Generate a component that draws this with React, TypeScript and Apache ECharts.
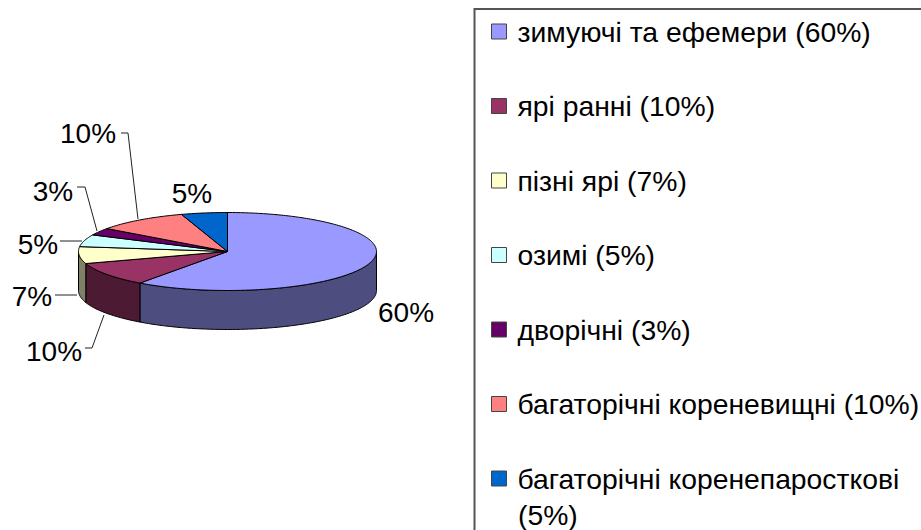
import React, { useEffect, useRef } from "react";
import * as echarts from "echarts";

const categories = [
  "зимуючі та ефемери",
  "ярі ранні",
  "пізні ярі",
  "озимі",
  "дворічні",
  "багаторічні кореневищні",
  "багаторічні коренепаросткові",
];
const percents = [60, 10, 7, 5, 3, 10, 5];
const topColors = ["#9999FF", "#993366", "#FFFFCC", "#CCFFFF", "#660066", "#FF8080", "#0066CC"];
const sideColors = ["#4D4D80", "#4D1A33", "#808066", "#668080", "#330033", "#804040", "#003366"];

// layout of the projected disc
const CX = 227.5, CY = 251.5, RX = 149, RY = 39, DEPTH = 39;
const FONT = "Liberation Sans";
const LABEL_FONT_SIZE = 28;
const LEGEND_FONT_SIZE = 28.3;
// label centre and leader line, by slice
const labelCentres = [[406, 312], [54, 351], [32, 296], [38, 244], [53, 191], [88, 133], [192, 193]];
const leaders: number[][][] = [
  [],
  [[85, 348], [92, 348], [104, 315]],
  [[55, 295], [77, 295]],
  [[60, 241], [82, 241]],
  [[77, 187], [85, 187], [97, 231]],
  [[121, 133], [128, 133], [138, 219]],
  [],
];

const pt = (deg: number, dy = 0): number[] => {
  const a = (deg * Math.PI) / 180;
  return [CX + RX * Math.sin(a), CY - RY * Math.cos(a) + dy];
};

const LAST = categories.length - 1;
const legendName = (i: number) => `${categories[i]} (${percents[i]}%)`;
const wrappedTail = `(${percents[LAST]}%)`;

function makeSeries(i: number, startPct: number) {
  return {
    type: "custom",
    name: legendName(i),
    coordinateSystem: "none",
    silent: true,
    itemStyle: { color: topColors[i] },
    data: [[percents[i], startPct]],
    renderItem: (_p: any, api: any) => {
      const v = api.value(0);
      const from = (api.value(1) / 100) * 360;
      const to = from + (v / 100) * 360;
      const children: any[] = [];
      const lineStyle = { stroke: "#000", lineWidth: 1, lineJoin: "round" };
      const sFrom = Math.max(from, 90);
      const sTo = Math.min(to, 270);
      if (sTo > sFrom) {
        const upper: number[][] = [];
        const lower: number[][] = [];
        for (let d = sFrom; d < sTo; d += 1) {
          upper.push(pt(d));
          lower.unshift(pt(d, DEPTH));
        }
        upper.push(pt(sTo));
        lower.unshift(pt(sTo, DEPTH));
        children.push({
          type: "polygon",
          shape: { points: upper.concat(lower) },
          style: { fill: sideColors[i], ...lineStyle },
        });
      }
      const top: number[][] = [[CX, CY]];
      for (let d = from; d < to; d += 1) top.push(pt(d));
      top.push(pt(to));
      children.push({
        type: "polygon",
        shape: { points: top },
        style: { fill: topColors[i], ...lineStyle },
      });
      if (leaders[i].length) {
        children.push({
          type: "polyline",
          shape: { points: leaders[i] },
          style: { fill: "none", stroke: "#222", lineWidth: 1 },
        });
      }
      children.push({
        type: "text",
        x: labelCentres[i][0],
        y: labelCentres[i][1],
        style: {
          text: `${v}%`,
          fill: "#000",
          font: `${LABEL_FONT_SIZE}px "${FONT}"`,
          align: "center",
          verticalAlign: "middle",
        },
      });
      return { type: "group", children };
    },
  };
}

export default function App() {
  const ref = useRef<HTMLDivElement>(null);
  useEffect(() => {
    const chart = echarts.init(ref.current!, null, { renderer: "svg" });
    let acc = 0;
    const series = percents.map((_, i) => {
      const s = makeSeries(i, acc);
      acc += percents[i];
      return s;
    });
    chart.setOption({
      animation: false,
      backgroundColor: "#fff",
      series,
      legend: {
        orient: "vertical",
        left: 491,
        top: 14,
        height: 600,
        width: 430,
        padding: 0,
        itemGap: 39.5,
        itemWidth: 15,
        itemHeight: 15,
        icon: "rect",
        selectedMode: false,
        data: percents.map((_, i) => ({
          name: legendName(i),
          itemStyle: { color: topColors[i], borderColor: "#444", borderWidth: 1 },
        })),
        // the last entry wraps: its tail is drawn below it, with the icon on the first line
        formatter: (n: string) => n.replace(` ${wrappedTail}`, (m) => (n === legendName(LAST) ? "" : m)),
        textStyle: {
          fontFamily: FONT,
          fontSize: LEGEND_FONT_SIZE,
          color: "#000",
          lineHeight: 35,
          padding: [0, 0, 0, 6],
        },
      },
      graphic: [
        {
          type: "polyline",
          silent: true,
          shape: { points: [[474.5, 530], [474.5, 9], [921, 9]] },
          style: { fill: "none", stroke: "#555", lineWidth: 2 },
        },
        {
          type: "text",
          silent: true,
          x: 518,
          y: 515,
          style: {
            text: wrappedTail,
            fill: "#000",
            font: `${LEGEND_FONT_SIZE}px "${FONT}"`,
            align: "left",
            verticalAlign: "middle",
          },
        },
      ],
    });
    return () => chart.dispose();
  }, []);
  return <div ref={ref} style={{ position: "fixed", left: 0, top: 0, width: 921, height: 530 }} />;
}
